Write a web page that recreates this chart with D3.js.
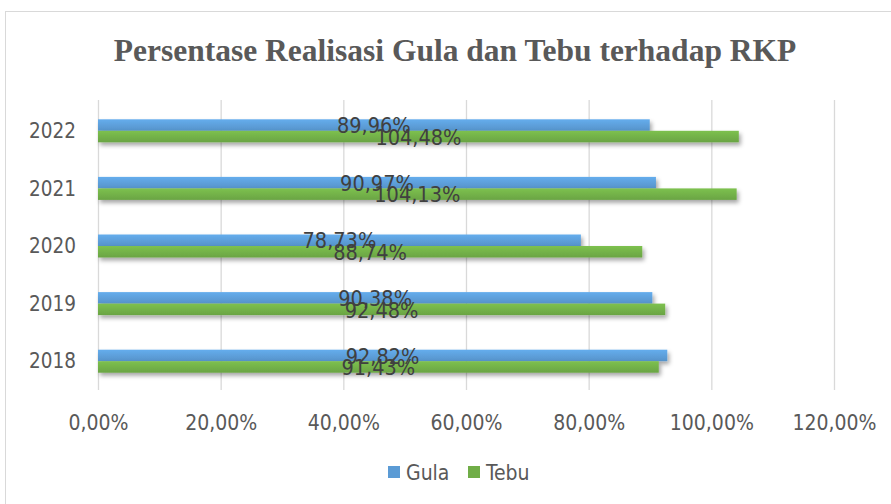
<!DOCTYPE html>
<html><head><meta charset="utf-8">
<script src="https://cdn.jsdelivr.net/npm/d3@7"></script>
<style>body{margin:0;background:#fff}svg{display:block}</style>
</head><body>
<svg id="c" width="891" height="504"></svg>
<script>
const title = "Persentase Realisasi Gula dan Tebu terhadap RKP";
const years = ["2022","2021","2020","2019","2018"];
const series = ["Gula","Tebu"];
const gula = [89.96, 90.97, 78.73, 90.38, 92.82];
const tebu = [104.48, 104.13, 88.74, 92.48, 91.43];
const xTicks = [0,20,40,60,80,100,120];
const colors = ["#5B9BD5","#70AD47"];

const svg = d3.select("#c");
const font = "'DejaVu Sans Condensed','Liberation Sans Narrow','Open Sans',sans-serif";
const defs = svg.append("defs");
const f = defs.append("filter").attr("id","sh").attr("x","-5%").attr("y","-50%").attr("width","110%").attr("height","250%");
f.append("feDropShadow").attr("dx",2).attr("dy",3).attr("stdDeviation",2).attr("flood-color","#000").attr("flood-opacity",0.35);
colors.forEach((c,i)=>{
  const g = defs.append("linearGradient").attr("id","g"+i).attr("x1",0).attr("y1",0).attr("x2",0).attr("y2",1);
  g.append("stop").attr("offset","0%").attr("stop-color",d3.color(c).brighter(0.3));
  g.append("stop").attr("offset","100%").attr("stop-color",d3.color(c).darker(0.15));
});

svg.append("rect").attr("x",5.5).attr("y",11.5).attr("width",900).attr("height",500)
  .attr("fill","#fff").attr("stroke","#d9d9d9");

svg.append("text").attr("x",455).attr("y",61).attr("text-anchor","middle")
  .attr("font-family","'Liberation Serif','Times New Roman',serif").attr("font-weight","bold")
  .attr("font-size",31.5).attr("fill","#595959").text(title);

const x = d3.scaleLinear().domain([0,120]).range([98,834]);
const y = d3.scaleBand().domain(years).range([102,390]);
const inner = d3.scaleBand().domain(series).range([y.bandwidth()/2-11.5, y.bandwidth()/2+11.5]);

svg.append("g").selectAll("line").data(xTicks).join("line")
  .attr("x1",d=>x(d)+0.5).attr("x2",d=>x(d)+0.5).attr("y1",100).attr("y2",390)
  .attr("stroke","#d9d9d9").attr("stroke-width",1.3);

const xa = svg.append("g").attr("transform","translate(0,423)")
  .call(d3.axisBottom(x).tickValues(xTicks).tickSize(0).tickFormat(d=>d3.format(".2f")(d).replace(".",",")+"%"));
xa.select(".domain").remove();
xa.selectAll("text").attr("font-family",font).attr("font-size",21).attr("fill","#595959").attr("dy","0.35em").attr("y",0);

const ya = svg.append("g").attr("transform","translate(76,0)")
  .call(d3.axisLeft(y).tickSize(0).tickPadding(0));
ya.select(".domain").remove();
ya.selectAll("text").attr("font-family",font).attr("font-size",20.5).attr("fill","#595959").attr("dy","0.35em");

const data = years.map((yr,i)=>({yr, vals:[{s:"Gula",v:gula[i],c:0},{s:"Tebu",v:tebu[i],c:1}]}));
const groups = svg.append("g").selectAll("g").data(data).join("g")
  .attr("transform",d=>`translate(0,${y(d.yr)})`);
groups.selectAll("rect").data(d=>d.vals).join("rect")
  .attr("x",x(0)).attr("y",d=>inner(d.s)).attr("height",inner.bandwidth())
  .attr("width",d=>x(d.v)-x(0)).attr("fill",d=>`url(#g${d.c})`).attr("filter","url(#sh)");
groups.selectAll("text").data(d=>d.vals).join("text")
  .attr("x",d=>(x(0)+x(d.v))/2).attr("y",d=>inner(d.s)+inner.bandwidth()/2).attr("dy","0.38em")
  .attr("text-anchor","middle").attr("font-family",font).attr("font-size",21.5).attr("fill","#404040")
  .text(d=>d3.format(".2f")(d.v).replace(".",",")+"%");

const leg = svg.append("g").attr("transform","translate(388,472)");
series.forEach((s,i)=>{
  const ox = i*80;
  leg.append("rect").attr("x",ox).attr("y",-6).attr("width",12).attr("height",12).attr("fill",colors[i]);
  leg.append("text").attr("x",ox+18).attr("y",0).attr("dy","0.36em").attr("font-family",font)
    .attr("font-size",21).attr("fill","#595959").text(s);
});
</script>
</body></html>
